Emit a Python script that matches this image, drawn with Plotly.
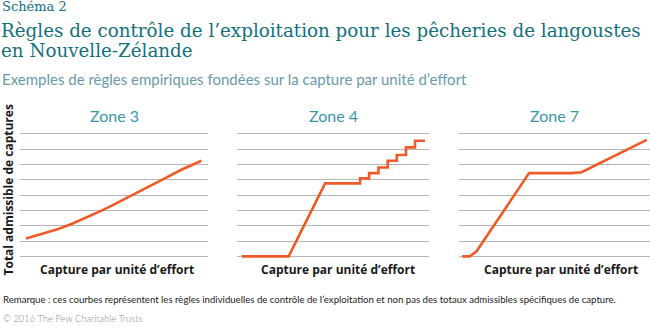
import plotly.graph_objects as go

# ---- data ----
zone_names = ["Zone 3", "Zone 4", "Zone 7"]

z3_x = [0.32, 1.15, 2.04, 2.74, 3.45, 4.34, 5.04, 5.93, 6.81, 7.70, 8.58, 9.65]
z3_y = [1.17, 1.46, 1.78, 2.11, 2.48, 2.98, 3.41, 3.96, 4.50, 5.09, 5.65, 6.24]

z4_x = [0.26, 2.69, 4.59, 6.41, 6.41, 6.88, 6.88, 7.37, 7.37, 7.85, 7.85, 8.32, 8.32, 8.80, 8.80, 9.27, 9.27, 9.79]
z4_y = [0.0, 0.0, 4.76, 4.76, 5.09, 5.09, 5.43, 5.43, 5.80, 5.80, 6.24, 6.24, 6.61, 6.61, 7.11, 7.11, 7.54, 7.54]

z7_x = [0.17, 0.56, 0.91, 3.67, 5.89, 6.42, 9.83]
z7_y = [0.0, 0.0, 0.31, 5.43, 5.43, 5.49, 7.60]

grid_vals = [0, 1, 2, 3, 4, 5, 6, 7, 8]

title_small = "Schéma 2"
title_l1 = "Règles de contrôle de l’exploitation pour les pêcheries de langoustes"
title_l2 = "en Nouvelle-Zélande"
subtitle = "Exemples de règles empiriques fondées sur la capture par unité d’effort"
y_title = "Total admissible de captures"
x_title = "Capture par unité d’effort"
note = "Remarque : ces courbes représentent les règles individuelles de contrôle de l’exploitation et non pas des totaux admissibles spécifiques de capture."
copyright_txt = "© 2016 The Pew Charitable Trusts"

# ---- layout constants ----
W, H = 650, 327
LINE = "#f05a28"
GRID = "#b5b5b5"
TEAL = "#13707b"
TEAL2 = "#3a98a6"
SUB = "#6a9aa7"


def py(px):
    return 1 - px / H


x_domains = [(20 / W, 208 / W), (237 / W, 429 / W), (459 / W, 1.0)]
y_dom = (py(259.4), py(132.2))
yr = [-0.2, 8.1]

fig = go.Figure()
series = [(z3_x, z3_y), (z4_x, z4_y), (z7_x, z7_y)]
for i, (xs, ys) in enumerate(series):
    sfx = "" if i == 0 else str(i + 1)
    fig.add_trace(go.Scatter(x=xs, y=ys, mode="lines",
                             line=dict(color=LINE, width=2.6),
                             xaxis="x" + sfx, yaxis="y" + sfx, showlegend=False,
                             hoverinfo="skip"))
    fig.layout["xaxis" + sfx] = dict(domain=list(x_domains[i]), range=[0, 10],
                                     showgrid=False, zeroline=False, showticklabels=False,
                                     showline=False, ticks="", anchor="y" + sfx)
    fig.layout["yaxis" + sfx] = dict(domain=list(y_dom), range=yr, tickvals=grid_vals,
                                     showgrid=True, gridcolor=GRID, gridwidth=1,
                                     zeroline=False, showticklabels=False, showline=False,
                                     ticks="", anchor="x" + sfx)

ann = []


def add(text, x, y, size, color, family, xanchor="left", yanchor="middle", angle=0, weight=None):
    f = dict(size=size, color=color, family=family)
    if weight:
        f["weight"] = weight
    ann.append(dict(text=text, x=x / W, y=py(y), xref="paper", yref="paper",
                    xanchor=xanchor, yanchor=yanchor, showarrow=False,
                    font=f, textangle=angle))


SERIF = "DejaVu Serif"
SANS = "Lato"

add(title_small, 0, 6.5, 13, TEAL, SERIF)
add(title_l1, -1, 30, 18.3, TEAL, SERIF)
add(title_l2, -1, 50, 18.3, TEAL, SERIF)
add(subtitle, 0, 79, 15, SUB, SANS)

centers = [114, 333, 554]
xt_centers = [117, 338, 561]
for i in range(3):
    add(zone_names[i], centers[i], 115, 16, TEAL2, SANS, xanchor="center")
    add(x_title, xt_centers[i], 269.5, 12, "#1a1a1a", "Open Sans", xanchor="center", weight="bold")

add(y_title, 7.5, 190, 12, "#1a1a1a", "Open Sans", xanchor="center", angle=-90, weight="bold")
add(note, 1, 299, 9.6, "#222222", SANS)
add(copyright_txt, 1, 318, 9.4, "#8a8a8a", SANS, weight=300)

fig.update_layout(width=W, height=H, margin=dict(l=0, r=0, t=0, b=0),
                  paper_bgcolor="white", plot_bgcolor="white", annotations=ann)

fig.write_html("out.html")
